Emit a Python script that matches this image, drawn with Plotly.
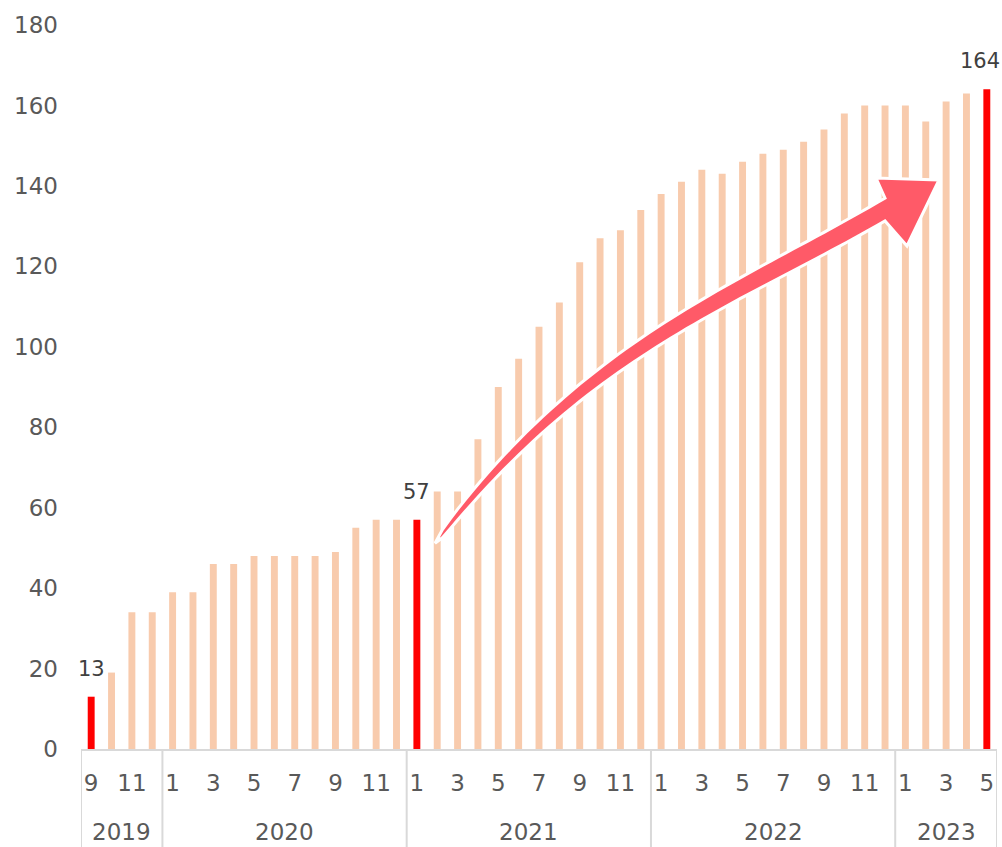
import plotly.graph_objects as go
import numpy as np

# ---- data ----
years = ["2019"] * 4 + ["2020"] * 12 + ["2021"] * 12 + ["2022"] * 12 + ["2023"] * 5
months = [9, 10, 11, 12] + list(range(1, 13)) * 3 + [1, 2, 3, 4, 5]
values = [13, 19, 34, 34,
          39, 39, 46, 46, 48, 48, 48, 48, 49, 55, 57, 57,
          57, 64, 64, 77, 90, 97, 105, 111, 121, 127, 129, 134,
          138, 141, 144, 143, 146, 148, 149, 151, 154, 158, 160, 160,
          160, 156, 161, 163, 164]
highlight = [0, 16, 44]
year_names = ["2019", "2020", "2021", "2022", "2023"]
y_ticks = list(range(0, 181, 20))

PEACH = "#F8CBAD"
RED = "#FF0000"
AXIS = "#D9D9D9"
TXT = "#595959"
FONT = "DejaVu Sans"

idx = list(range(len(values)))
colors = [RED if i in highlight else PEACH for i in idx]

W, H = 1002, 847
ML, MR, MT, MB = 81, 5, 25, 98
pw, ph = W - ML - MR, H - MT - MB

fig = go.Figure()
fig.add_trace(go.Bar(
    x=idx, y=values,
    marker=dict(color=colors, line=dict(width=0)),
    width=0.34,
    customdata=[f"{y}-{m}" for y, m in zip(years, months)],
    hovertemplate="%{customdata}: %{y}<extra></extra>",
))

# value labels on highlighted bars
for i in highlight:
    last = i == len(values) - 1
    fig.add_annotation(x=i, y=values[i], text=str(values[i]), showarrow=False,
                       yanchor="bottom", yshift=14, xshift=-7 if last else 0,
                       font=dict(family=FONT, size=21, color="#404040"))

# year group labels and dividers
bounds = [-0.5]
for yn in year_names:
    members = [i for i in idx if years[i] == yn]
    lo, hi = members[0] - 0.5, members[-1] + 0.5
    bounds.append(hi)
    fig.add_annotation(x=(lo + hi) / 2, y=(749 - 832) / ph, xref="x", yref="paper",
                       text=yn, showarrow=False, yanchor="middle",
                       font=dict(family=FONT, size=23, color=TXT))
for b in bounds:
    fig.add_shape(type="line", x0=b, x1=b, y0=0, y1=-MB / ph - 0.01,
                  xref="x", yref="paper", line=dict(color=AXIS, width=2), layer="below")

# ---- curved arrow (decoration, pixel space -> paper) ----
def to_paper(px, py):
    return (px - ML) / pw, (H - MB - py) / ph

cx = np.array([435, 457, 477, 498, 518, 538, 559, 579, 600, 620, 700, 780, 885], float)
cy = np.array([550, 512, 488, 465, 447, 429, 412, 396, 377, 364, 313, 262, 211], float)
coef = np.polyfit(cx, cy, 3)
xs = np.linspace(435, 885, 60)
ys = np.polyval(coef, xs)
tn = (xs - 435) / (885 - 435)
wv = 23 * tn ** 0.25
top = [(x, y - w / 2) for x, y, w in zip(xs, ys, wv)]
bot = [(x, y + w / 2) for x, y, w in zip(xs, ys, wv)]
head = [(876, 178), (939, 180), (907, 246)]
poly = top + head + bot[::-1]
pts = [to_paper(*p) for p in poly]
path = "M " + " L ".join(f"{x:.5f},{y:.5f}" for x, y in pts) + " Z"
fig.add_shape(type="path", path=path, xref="paper", yref="paper",
              fillcolor="#FF5A68", line=dict(color="white", width=3), layer="above")

fig.update_layout(
    width=W, height=H,
    margin=dict(l=ML, r=MR, t=MT, b=MB),
    plot_bgcolor="white", paper_bgcolor="white",
    showlegend=False,
    font=dict(family=FONT, size=23, color=TXT),
)
fig.update_yaxes(range=[0, 180], tickvals=y_ticks, showgrid=False, zeroline=False,
                 showline=False, ticks="", ticklabelstandoff=22,
                 tickfont=dict(family=FONT, size=23, color=TXT))
fig.update_xaxes(range=[-0.5, len(values) - 0.5], showgrid=False, zeroline=False,
                 showline=True, linecolor=AXIS, linewidth=2, ticks="",
                 tickvals=[i for i in idx if months[i] % 2 == 1],
                 ticktext=[str(months[i]) for i in idx if months[i] % 2 == 1],
                 ticklabelstandoff=12, tickangle=0,
                 tickfont=dict(family=FONT, size=23, color=TXT))

fig.write_html("out.html")
